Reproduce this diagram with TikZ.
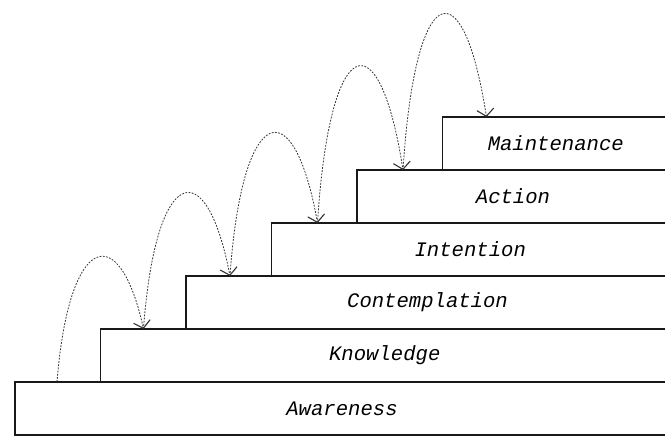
\documentclass[tikz,border=0pt]{standalone}
\usepackage{fontspec}
\setmonofont{Liberation Mono}
\usepackage{tikz}
\usetikzlibrary{arrows.meta,positioning,calc}
\tikzstyle{stair}=[draw=black!90,line width=1.1pt,rectangle,anchor=south west,outer sep=0pt,inner sep=0pt,minimum height=53pt,font=\fontsize{20.6}{24}\selectfont\ttfamily\itshape]
\tikzstyle{jump}=[draw=black!80,line width=0.8pt,dash pattern=on 1.8pt off 1.4pt,-{Straight Barb[length=7pt,width=17pt,line width=1.1pt]}]

\begin{document}
\begin{tikzpicture}[x=1pt,y=1pt]
\useasboundingbox (0,0) rectangle (665,436);
\clip (0,0) rectangle (665,436);
% steps
\node [stair, minimum width=654pt] (aware) at (15,1) {Awareness};
\node [stair, minimum width=568.5pt] (know) at ([xshift=85.5pt]aware.north west) {Knowledge};
\node [stair, minimum width=483pt] (contemp) at ([xshift=85.5pt]know.north west) {Contemplation};
\node [stair, minimum width=397.5pt] (intent) at ([xshift=85.5pt]contemp.north west) {Intention};
\node [stair, minimum width=312pt] (act) at ([xshift=85.5pt]intent.north west) {Action};
\node [stair, minimum width=226.5pt] (maint) at ([xshift=85.5pt]act.north west) {Maintenance};
% jumps
\draw [jump] ([xshift=42pt]aware.north west) .. controls +(12,150) and +(-24,110) .. ([xshift=43pt]know.north west);
\draw [jump] ([xshift=43pt]know.north west) .. controls +(12,164) and +(-24,125) .. ([xshift=44pt]contemp.north west);
\draw [jump] ([xshift=44pt]contemp.north west) .. controls +(12,173) and +(-24,135) .. ([xshift=46pt]intent.north west);
\draw [jump] ([xshift=46pt]intent.north west) .. controls +(12,191) and +(-24,154) .. ([xshift=46pt]act.north west);
\draw [jump] ([xshift=46pt]act.north west) .. controls +(12,190) and +(-24,153) .. ([xshift=44pt]maint.north west);
\end{tikzpicture}
\end{document}
